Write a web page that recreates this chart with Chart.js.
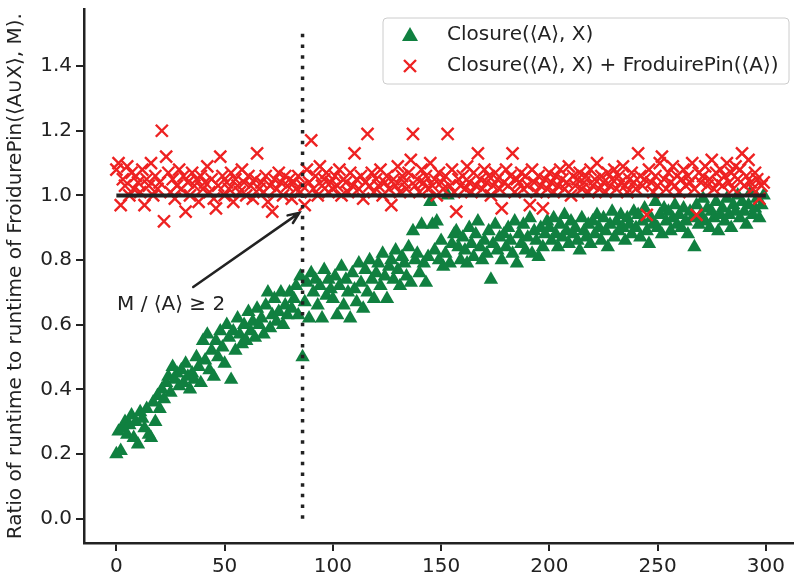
<!DOCTYPE html>
<html>
<head>
<meta charset="utf-8">
<script src="https://cdn.jsdelivr.net/npm/chart.js@4"></script>
<style>
  body { margin: 0; background: #fff; }
  canvas { display: block; }
</style>
</head>
<body>
<canvas id="ratioChart" width="794" height="576"></canvas>
<script>
// instance sizes along the x axis (one point per instance)
const instances = [...Array(300).keys()];

// Closure(<A>, X) ratio
const closureRatio = [
  0.20, 0.27, 0.21, 0.28, 0.30, 0.26, 0.29, 0.32, 0.25, 0.30, 0.23, 0.33, 0.31, 0.28, 0.34, 0.26, 0.25, 0.36, 0.30, 0.38,
  0.34, 0.40, 0.37, 0.42, 0.44, 0.39, 0.47, 0.43, 0.45, 0.41, 0.46, 0.42, 0.48, 0.44, 0.40, 0.45, 0.43, 0.50, 0.47, 0.42,
  0.55, 0.49, 0.57, 0.46, 0.52, 0.44, 0.55, 0.50, 0.58, 0.53, 0.48, 0.60, 0.56, 0.43, 0.58, 0.52, 0.62, 0.57, 0.54, 0.60,
  0.55, 0.64, 0.58, 0.61, 0.56, 0.65, 0.60, 0.62, 0.57, 0.66, 0.70, 0.59, 0.63, 0.68, 0.61, 0.64, 0.70, 0.60, 0.66, 0.63,
  0.70, 0.65, 0.68, 0.72, 0.63, 0.75, 0.50, 0.67, 0.73, 0.62, 0.76, 0.70, 0.74, 0.66, 0.72, 0.62, 0.77, 0.69, 0.74, 0.71,
  0.68, 0.75, 0.63, 0.72, 0.78, 0.66, 0.74, 0.70, 0.62, 0.76, 0.71, 0.67, 0.79, 0.73, 0.65, 0.77, 0.70, 0.80, 0.74, 0.68,
  0.76, 0.79, 0.72, 0.82, 0.75, 0.68, 0.78, 0.80, 0.74, 0.83, 0.77, 0.72, 0.81, 0.79, 0.75, 0.84, 0.73, 0.89, 0.80, 0.82,
  0.76, 0.91, 0.79, 0.73, 0.81, 0.98, 0.91, 0.83, 0.92, 0.80, 0.86, 0.78, 0.82, 1.00, 0.79, 0.85, 0.88, 0.89, 0.84, 0.80,
  0.87, 0.83, 0.79, 0.90, 0.85, 0.81, 0.88, 0.92, 0.84, 0.80, 0.86, 0.82, 0.89, 0.74, 0.85, 0.91, 0.83, 0.87, 0.80, 0.88,
  0.84, 0.90, 0.86, 0.82, 0.92, 0.79, 0.88, 0.85, 0.91, 0.83, 0.87, 0.93, 0.82, 0.89, 0.86, 0.81, 0.90, 0.84, 0.88, 0.92,
  0.90, 0.86, 0.93, 0.88, 0.84, 0.91, 0.87, 0.94, 0.89, 0.85, 0.92, 0.88, 0.90, 0.86, 0.83, 0.93, 0.89, 0.87, 0.91, 0.85,
  0.92, 0.88, 0.94, 0.90, 0.86, 0.93, 0.89, 0.84, 0.91, 0.95, 0.87, 0.92, 0.89, 0.94, 0.90, 0.86, 0.93, 0.91, 0.88, 0.95,
  0.90, 0.94, 0.87, 0.92, 0.96, 0.89, 0.85, 0.93, 0.91, 0.98, 0.90, 0.94, 0.88, 0.96, 0.92, 0.95, 0.89, 0.93, 0.97, 0.91,
  0.94, 0.90, 0.96, 0.92, 0.88, 0.95, 0.93, 0.84, 0.97, 0.91, 0.94, 0.99, 0.92, 0.96, 0.90, 0.95, 0.93, 0.98, 0.89, 0.94,
  0.96, 0.92, 0.99, 0.94, 0.90, 0.97, 0.95, 1.00, 0.93, 0.98, 0.95, 0.91, 0.97, 1.01, 0.94, 0.96, 0.99, 0.93, 0.97, 1.00
];

// Closure(<A>, X) + FroduirePin(<A>) ratio
const closurePinRatio = [
  1.08, 1.10, 0.97, 1.05, 1.03, 1.09, 1.00, 1.07, 1.02, 1.06, 1.04, 1.01, 1.08, 0.97, 1.05, 1.03, 1.10, 1.00, 1.06, 1.02,
  1.04, 1.20, 0.92, 1.12, 1.07, 1.01, 1.05, 0.99, 1.03, 1.08, 1.02, 1.06, 0.95, 1.04, 1.00, 1.07, 1.03, 1.05, 0.98, 1.06,
  1.02, 1.04, 1.09, 1.01, 1.05, 0.99, 0.96, 1.03, 1.12, 1.06, 1.00, 1.04, 1.02, 1.07, 0.98, 1.05, 1.03, 1.01, 1.08, 1.04,
  1.00, 1.06, 1.03, 0.99, 1.05, 1.13, 1.02, 1.04, 1.01, 1.06, 0.98, 1.03, 0.95, 1.05, 1.02, 1.07, 1.04, 1.00, 1.06, 1.03,
  1.05, 0.99, 1.04, 1.02, 1.06, 1.01, 1.03, 0.97, 1.08, 1.04, 1.17, 1.02, 1.06, 1.00, 1.09, 1.03, 1.05, 1.07, 1.01, 1.04,
  1.02, 1.06, 1.03, 1.08, 1.00, 1.05, 1.04, 1.01, 1.07, 1.03, 1.13, 1.05, 1.02, 1.06, 0.99, 1.04, 1.19, 1.03, 1.07, 1.01,
  1.05, 1.03, 1.08, 1.00, 1.04, 1.06, 1.02, 0.97, 1.05, 1.03, 1.09, 1.01, 1.06, 1.04, 1.02, 1.07, 1.11, 1.19, 1.03, 1.05,
  1.01, 1.08, 1.04, 1.06, 1.02, 1.10, 1.03, 1.05, 1.00, 1.07, 1.04, 1.02, 1.06, 1.19, 1.03, 1.08, 1.01, 0.95, 1.05, 1.03,
  1.06, 1.02, 1.09, 1.04, 1.01, 1.07, 1.03, 1.13, 1.05, 1.02, 1.08, 1.04, 1.06, 1.00, 1.03, 1.07, 1.05, 1.02, 0.96, 1.04,
  1.08, 1.03, 1.06, 1.13, 1.01, 1.05, 1.04, 1.07, 1.02, 1.06, 1.03, 0.97, 1.08, 1.04, 1.01, 1.06, 1.03, 0.96, 1.05, 1.02,
  1.07, 1.04, 1.01, 1.06, 1.03, 1.08, 1.05, 1.02, 1.04, 1.09, 1.00, 1.06, 1.03, 1.05, 1.07, 1.02, 1.04, 1.06, 1.01, 1.08,
  1.03, 1.05, 1.10, 1.02, 1.06, 1.04, 1.01, 1.07, 1.03, 1.05, 1.08, 1.02, 1.06, 1.04, 1.09, 1.03, 1.01, 1.05, 1.07, 1.04,
  1.02, 1.13, 1.06, 1.03, 1.05, 0.94, 1.08, 1.04, 1.01, 1.06, 1.03, 1.10, 1.12, 1.05, 1.02, 1.07, 1.04, 1.09, 1.03, 1.06,
  1.01, 1.05, 1.08, 1.03, 1.06, 1.04, 1.10, 1.02, 0.94, 1.07, 1.04, 1.06, 1.09, 1.03, 1.05, 1.11, 1.02, 1.07, 1.04, 1.08,
  1.03, 1.06, 1.10, 1.04, 1.07, 1.02, 1.09, 1.05, 1.08, 1.13, 1.03, 1.06, 1.11, 1.04, 1.02, 1.07, 1.05, 0.99, 1.03, 1.04
];

// reference lines
const baselineX = [0, 300];
const baselineY = [1, 1];
const cutoffX = [86, 86];
const cutoffY = [0, 1.5];

// tick labels
const xTickValues = [0, 50, 100, 150, 200, 250, 300];
const yTickValues = [0.0, 0.2, 0.4, 0.6, 0.8, 1.0, 1.2, 1.4];

const seriesLabels = ["Closure(\u27e8A\u27e9, X)", "Closure(\u27e8A\u27e9, X) + FroduirePin(\u27e8A\u27e9)"];
const yTitle = "Ratio of runtime to runtime of FroidurePin(\u27e8A\u222aX\u27e9, M).";
const noteText = "M / \u27e8A\u27e9 \u2265 2";

const FONT = "DejaVu Sans";
const INK = "#222222";
const GREEN = "#108040";
const RED = "#ee2222";

Chart.defaults.font.family = FONT;
Chart.defaults.font.size = 20;
Chart.defaults.color = INK;

// draw legend inside the plot, top right, with a rounded box
const boxLegend = {
  id: "boxLegend",
  afterDraw(chart) {
    const ctx = chart.ctx;
    const x = 383, y = 18, w = 406, h = 66;
    ctx.save();
    ctx.beginPath();
    ctx.roundRect(x, y, w, h, 4);
    ctx.fillStyle = "rgba(255,255,255,0.8)";
    ctx.fill();
    ctx.strokeStyle = "#cccccc";
    ctx.lineWidth = 1;
    ctx.stroke();

    const rows = [y + 17, y + 48];
    // triangle marker
    ctx.fillStyle = GREEN;
    ctx.beginPath();
    ctx.moveTo(410, rows[0] - 8);
    ctx.lineTo(418, rows[0] + 6);
    ctx.lineTo(402, rows[0] + 6);
    ctx.closePath();
    ctx.fill();
    // cross marker
    ctx.strokeStyle = RED;
    ctx.lineWidth = 2.4;
    ctx.beginPath();
    ctx.moveTo(404, rows[1] - 6); ctx.lineTo(416, rows[1] + 6);
    ctx.moveTo(416, rows[1] - 6); ctx.lineTo(404, rows[1] + 6);
    ctx.stroke();

    ctx.font = "20px " + FONT;
    ctx.fillStyle = INK;
    ctx.textBaseline = "middle";
    ctx.textAlign = "left";
    ctx.fillText(seriesLabels[0], 447, rows[0]);
    ctx.fillText(seriesLabels[1], 447, rows[1]);
    ctx.restore();
  }
};

// annotation text with an arrow pointing at the cutoff line
const noteArrow = {
  id: "noteArrow",
  afterDatasetsDraw(chart) {
    const { ctx, scales } = chart;
    const sx = (v) => scales.x.getPixelForValue(v);
    const sy = (v) => scales.y.getPixelForValue(v);
    const tail = [sx(35.5), sy(0.717)];
    const head = [sx(84.5), sy(0.946)];
    ctx.save();
    ctx.strokeStyle = INK;
    ctx.lineWidth = 2.5;
    ctx.lineCap = "round";
    ctx.beginPath();
    ctx.moveTo(tail[0], tail[1]);
    ctx.lineTo(head[0], head[1]);
    const ang = Math.atan2(head[1] - tail[1], head[0] - tail[0]);
    const len = 12;
    ctx.moveTo(head[0] - len * Math.cos(ang - 0.4), head[1] - len * Math.sin(ang - 0.4));
    ctx.lineTo(head[0], head[1]);
    ctx.lineTo(head[0] - len * Math.cos(ang + 0.4), head[1] - len * Math.sin(ang + 0.4));
    ctx.stroke();

    ctx.font = "20px " + FONT;
    ctx.fillStyle = INK;
    ctx.textAlign = "left";
    ctx.textBaseline = "alphabetic";
    ctx.fillText(noteText, sx(0.3), sy(0.646));
    ctx.restore();
  }
};

// keep the plot area exactly where the reference has it
function zeroPadding(scale) {
  scale.paddingTop = 0;
  scale.paddingBottom = 0;
  scale.paddingLeft = 0;
  scale.paddingRight = 0;
}

function initializeChart() {
  const ctx = document.getElementById("ratioChart").getContext("2d");
  new Chart(ctx, {
    type: "scatter",
    data: {
      datasets: [
        {
          label: "cutoff",
          data: cutoffX.map((x, i) => ({ x: x, y: cutoffY[i] })),
          showLine: true,
          borderColor: INK,
          borderWidth: 3.5,
          borderDash: [3.5, 7.2],
          borderCapStyle: "butt",
          pointRadius: 0,
          order: 0,
        },
        {
          label: "baseline",
          data: baselineX.map((x, i) => ({ x: x, y: baselineY[i] })),
          showLine: true,
          borderColor: INK,
          borderWidth: 4,
          pointRadius: 0,
          order: 1,
        },
        {
          label: seriesLabels[1],
          data: instances.map((x, i) => ({ x: x, y: closurePinRatio[i] })),
          pointStyle: "crossRot",
          pointRadius: 8.5,
          borderColor: RED,
          borderWidth: 2.4,
          order: 2,
        },
        {
          label: seriesLabels[0],
          data: instances.map((x, i) => ({ x: x, y: closureRatio[i] })),
          pointStyle: "triangle",
          pointRadius: 8.3,
          backgroundColor: GREEN,
          borderWidth: 0,
          order: 3,
        },
      ],
    },
    options: {
      responsive: false,
      animation: false,
      layout: { autoPadding: false, padding: { top: 9.5, right: 0, left: 0, bottom: 0 } },
      plugins: {
        legend: { display: false },
        tooltip: { enabled: false },
      },
      scales: {
        x: {
          type: "linear",
          min: -14.95,
          max: 313,
          afterBuildTicks: (scale) => { scale.ticks = xTickValues.map((v) => ({ value: v })); },
          afterFit: (scale) => { scale.height = 33; zeroPadding(scale); },
          ticks: { padding: 4, color: INK, callback: (v) => String(v) },
          grid: { display: true, drawOnChartArea: false, tickLength: 8, lineWidth: 2, color: INK },
          border: { display: true, color: INK, width: 2.5 },
        },
        y: {
          type: "linear",
          min: -0.075,
          max: 1.575,
          afterBuildTicks: (scale) => { scale.ticks = yTickValues.map((v) => ({ value: v })); },
          afterFit: (scale) => { scale.width = 84; zeroPadding(scale); },
          ticks: { padding: 4, color: INK, callback: (v) => Number(v).toFixed(1) },
          grid: { display: true, drawOnChartArea: false, tickLength: 8, lineWidth: 2, color: INK },
          border: { display: true, color: INK, width: 2.5 },
          title: { display: true, text: yTitle, color: INK, font: { size: 20 }, padding: { top: 4, bottom: 0 } },
        },
      },
    },
    plugins: [noteArrow, boxLegend],
  });
}

initializeChart();
</script>
</body>
</html>
